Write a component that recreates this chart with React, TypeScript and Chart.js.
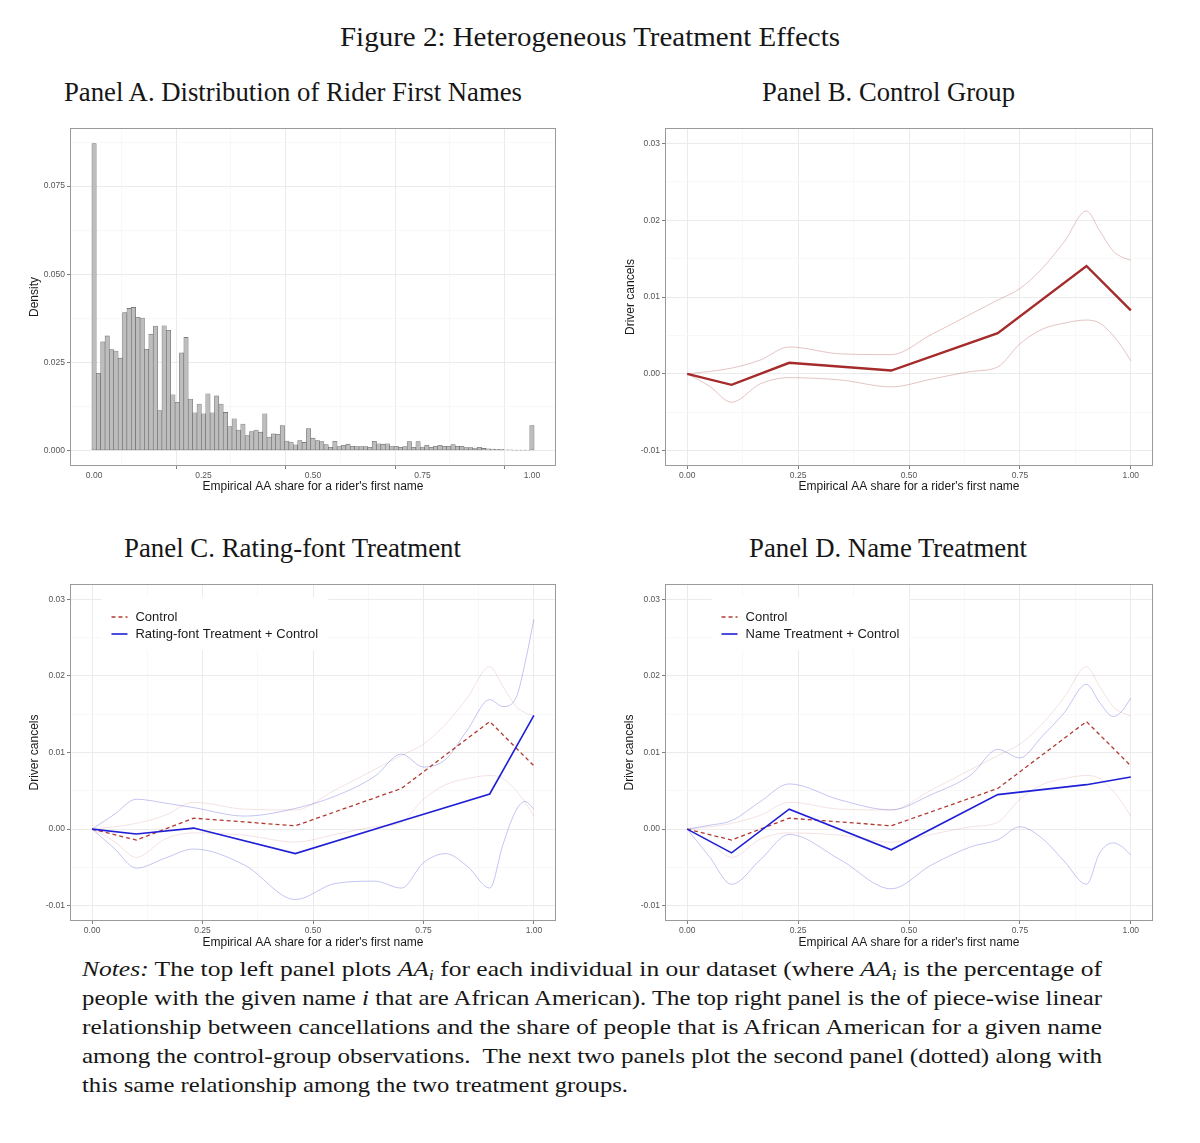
import React, { useEffect, useLayoutEffect, useRef } from 'react';
import { Chart, registerables } from 'chart.js';

Chart.register(...registerables);

// ---------------- data ----------------
const BIN_WIDTH = 0.01;
const HIST_DENSITY = [
  0.0871, 0.0219, 0.0308, 0.0325, 0.0286, 0.0282, 0.0262, 0.0391, 0.0403, 0.0406,
  0.0378, 0.0376, 0.0287, 0.0330, 0.0353, 0.0113, 0.0354, 0.0341, 0.0158, 0.0137,
  0.0277, 0.0321, 0.0146, 0.0107, 0.0132, 0.0104, 0.0161, 0.0107, 0.0155, 0.0132,
  0.0108, 0.0068, 0.0090, 0.0058, 0.0075, 0.0042, 0.0054, 0.0058, 0.0052, 0.0104,
  0.0038, 0.0047, 0.0046, 0.0071, 0.0027, 0.0024, 0.0016, 0.0028, 0.0023, 0.0062,
  0.0035, 0.0028, 0.0025, 0.0017, 0.0009, 0.0026, 0.0011, 0.0015, 0.0018, 0.0012,
  0.0011, 0.0011, 0.0011, 0.0009, 0.0026, 0.0019, 0.0018, 0.0019, 0.0011, 0.0012,
  0.0009, 0.0011, 0.0025, 0.0009, 0.0025, 0.0010, 0.0015, 0.0009, 0.0012, 0.0015,
  0.0012, 0.0012, 0.0017, 0.0012, 0.0012, 0.0008, 0.0008, 0.0007, 0.0009, 0.0006,
  0.0005, 0.0004, 0.0003, 0.0003, 0.0002, 0.0002, 0.0001, 0.0001, 0.0001, 0.0001,
  0.0071,
];

const X_MAJOR = [0, 0.25, 0.5, 0.75, 1];
const X_MINOR = [0.125, 0.375, 0.625, 0.875];
const X_TICK_LABELS = ['0.00', '0.25', '0.50', '0.75', '1.00'];

const YA_MAJOR = [0, 0.025, 0.05, 0.075];
const YA_MINOR = [0.0125, 0.0375, 0.0625, 0.0875];
const YA_TICK_LABELS = ['0.000', '0.025', '0.050', '0.075'];

const Y_MAJOR = [-0.01, 0, 0.01, 0.02, 0.03];
const Y_MINOR = [-0.005, 0.005, 0.015, 0.025];
const Y_TICK_LABELS = ['-0.01', '0.00', '0.01', '0.02', '0.03'];

// piece-wise linear estimates (knots)
const KNOTS = [0, 0.1, 0.23, 0.46, 0.7, 0.9, 1.0];
const CONTROL = [0, -0.00143, 0.00143, 0.00043, 0.0053, 0.01404, 0.00826];
const RATING = [0, -0.00065, 0.00013, -0.0032, 0.00105, 0.00458, 0.01486];
const NAME = [0, -0.0031, 0.0026, -0.0027, 0.0045, 0.0058, 0.0068];

// confidence bands
const CI_X = [0, 0.05, 0.1, 0.165, 0.23, 0.345, 0.46, 0.55, 0.64, 0.7, 0.75, 0.8, 0.85, 0.9, 0.93, 0.96, 0.98, 1.0];
const CONTROL_HI = [0, 0.0003, 0.00074, 0.0018, 0.0035, 0.0026, 0.0025, 0.0051, 0.0078, 0.0096, 0.0111, 0.0137, 0.0172, 0.0212, 0.0186, 0.0160, 0.0152, 0.0148];
const CONTROL_LO = [0, -0.0016, -0.0037, -0.0013, -0.0005, -0.0008, -0.0017, -0.0007, 0.0003, 0.0009, 0.0039, 0.0058, 0.0066, 0.0070, 0.0066, 0.0050, 0.0035, 0.0017];
const RATING_HI = [0, 0.0019, 0.0039, 0.0034, 0.0028, 0.0017, 0.0027, 0.0043, 0.0069, 0.0098, 0.0081, 0.0091, 0.0130, 0.0169, 0.0160, 0.0172, 0.0217, 0.0274];
const RATING_LO = [0, -0.0025, -0.0051, -0.0038, -0.0026, -0.0047, -0.0092, -0.0071, -0.0068, -0.0077, -0.0044, -0.0032, -0.0049, -0.0077, -0.0020, 0.0025, 0.0036, 0.0026];
const NAME_HI = [0, 0.0005, 0.0011, 0.0036, 0.0059, 0.0038, 0.0025, 0.0045, 0.0071, 0.0104, 0.0093, 0.0121, 0.0152, 0.0189, 0.0165, 0.0147, 0.0154, 0.0171];
const NAME_LO = [0, -0.0036, -0.0072, -0.0040, -0.0007, -0.0040, -0.0078, -0.0047, -0.0023, -0.0014, 0.0003, -0.0012, -0.0042, -0.0072, -0.0031, -0.0018, -0.0023, -0.0034];

const LEGEND_CONTROL = 'Control';
const LEGEND_RATING = 'Rating-font Treatment + Control';
const LEGEND_NAME = 'Name Treatment + Control';
const X_TITLE = "Empirical AA share for a rider's first name";

// ---------------- style ----------------
const SANS = '"Liberation Sans", Arial, Helvetica, sans-serif';
const SERIF = '"Liberation Serif", "DejaVu Serif", serif';
const MAJOR_GRID = '#EBEBEB';
const MINOR_GRID = '#F5F5F5';
const TICK_MARK = '#808080';
const FRAME = '#9a9a9a';
const TICK_COLOR = '#555555';
const RED = '#A52A2A';
const RED_DASH = '#B03A30';
const RED_CI = 'rgba(165,42,42,0.28)';
const RED_CI_FAINT = 'rgba(178,34,34,0.15)';
const BLUE = '#1F1FD6';
const BLUE_CI = 'rgba(40,40,210,0.30)';

const pts = (xs: number[], ys: number[]) => xs.map((x, i) => ({ x, y: ys[i] }));
const near = (a: number, b: number) => Math.abs(a - b) < 1e-9;

function axis(kind: 'x' | 'y', min: number, max: number, major: number[], minor: number[], labels: string[], title: string, size: number) {
  const all = [...major, ...minor].sort((a, b) => a - b);
  const isMajor = (v: number) => major.some((m) => near(m, v));
  const labelOf = (v: number) => {
    const i = major.findIndex((m) => near(m, v));
    return i >= 0 ? labels[i] : '';
  };
  return {
    type: 'linear',
    position: kind === 'x' ? 'bottom' : 'left',
    min,
    max,
    bounds: 'data',
    offset: false,
    afterBuildTicks: (s: any) => {
      s.ticks = all.map((v) => ({ value: v }));
    },
    afterFit: (s: any) => {
      if (kind === 'x') s.height = size;
      else s.width = size;
    },
    grid: {
      drawOnChartArea: true,
      drawTicks: true,
      tickLength: 3,
      color: (c: any) => (c.tick && isMajor(c.tick.value) ? MAJOR_GRID : MINOR_GRID),
      lineWidth: (c: any) => (c.tick && isMajor(c.tick.value) ? 1 : 0.7),
      tickColor: (c: any) => (c.tick && isMajor(c.tick.value) ? TICK_MARK : 'rgba(0,0,0,0)'),
      tickWidth: 1,
    },
    border: { display: false },
    ticks: {
      autoSkip: false,
      maxRotation: 0,
      minRotation: 0,
      padding: 2,
      color: TICK_COLOR,
      font: { family: SANS, size: 8.5 },
      callback: (v: any) => labelOf(Number(v)),
    },
    title: {
      display: true,
      text: title,
      color: '#1a1a1a',
      font: { family: SANS, size: 12 },
      padding: kind === 'x' ? { top: 0, bottom: 6 } : { top: 7, bottom: 0 },
    },
  };
}

const framePlugin = {
  id: 'frame',
  afterDraw(chart: any) {
    const { ctx, chartArea: a } = chart;
    ctx.save();
    ctx.strokeStyle = FRAME;
    ctx.lineWidth = 1;
    ctx.strokeRect(Math.round(a.left) + 0.5, Math.round(a.top) + 0.5, Math.round(a.right - a.left) - 1, Math.round(a.bottom - a.top) - 1);
    ctx.restore();
  },
};

const insideLegend = {
  id: 'insideLegend',
  afterDatasetsDraw(chart: any, _args: any, opts: any) {
    if (!opts || !opts.items) return;
    const { ctx, chartArea: a } = chart;
    const items = opts.items as { label: string; color: string; dash: number[]; width: number }[];
    ctx.save();
    ctx.font = `13px ${SANS}`;
    const textW = Math.max(...items.map((it) => ctx.measureText(it.label).width));
    const sample = 16;
    const gap = 8;
    const rowH = 17;
    const contentW = sample + gap + textW;
    const cx = a.left + opts.xFrac * (a.right - a.left);
    const x0 = cx - contentW / 2;
    const y0 = a.top + 33;
    ctx.fillStyle = '#ffffff';
    ctx.fillRect(x0 - 10, y0 - 20, contentW + 20, rowH * (items.length - 1) + 36);
    items.forEach((it, i) => {
      const y = y0 + i * rowH;
      ctx.beginPath();
      ctx.setLineDash(it.dash);
      ctx.strokeStyle = it.color;
      ctx.lineWidth = it.width;
      ctx.moveTo(x0, y);
      ctx.lineTo(x0 + sample, y);
      ctx.stroke();
      ctx.setLineDash([]);
      ctx.fillStyle = '#1a1a1a';
      ctx.textBaseline = 'middle';
      ctx.textAlign = 'left';
      ctx.fillText(it.label, x0 + sample + gap, y);
    });
    ctx.restore();
  },
};

function lineDs(xs: number[], ys: number[], color: string, width: number, order: number, opts: any = {}) {
  return {
    data: pts(xs, ys),
    borderColor: color,
    borderWidth: width,
    pointRadius: 0,
    fill: false,
    order,
    ...opts,
  };
}

const ciOpts = { cubicInterpolationMode: 'monotone' };

function baseOptions(scales: any, padding: any, plugins: any = {}) {
  return {
    responsive: false,
    maintainAspectRatio: false,
    animation: false,
    events: [],
    layout: { padding },
    scales,
    plugins: { legend: { display: false }, tooltip: { enabled: false }, ...plugins },
  };
}

function configA() {
  return {
    type: 'bar',
    data: {
      datasets: [
        {
          data: HIST_DENSITY.map((y, i) => ({ x: i * BIN_WIDTH, y })),
          backgroundColor: '#BDBDBD',
          borderColor: '#6a6a6a',
          borderWidth: 0.6,
          borderSkipped: false,
          barPercentage: 1,
          categoryPercentage: 1,
        },
      ],
    },
    options: baseOptions(
      {
        x: axis('x', -0.055, 1.055, X_MAJOR, X_MINOR, X_TICK_LABELS, X_TITLE, 34),
        y: axis('y', -0.0044, 0.0915, YA_MAJOR, YA_MINOR, YA_TICK_LABELS, 'Density', 50),
      },
      { top: 8, right: 9, left: 0, bottom: 0 }
    ),
    plugins: [framePlugin],
  };
}

function configB() {
  return {
    type: 'line',
    data: {
      datasets: [
        lineDs(KNOTS, CONTROL, RED, 2.4, 0),
        lineDs(CI_X, CONTROL_HI, RED_CI, 1, 1, ciOpts),
        lineDs(CI_X, CONTROL_LO, RED_CI, 1, 1, ciOpts),
      ],
    },
    options: baseOptions(
      {
        x: axis('x', -0.05, 1.05, X_MAJOR, X_MINOR, X_TICK_LABELS, X_TITLE, 34),
        y: axis('y', -0.012, 0.032, Y_MAJOR, Y_MINOR, Y_TICK_LABELS, 'Driver cancels', 49),
      },
      { top: 8, right: 9, left: 0, bottom: 0 }
    ),
    plugins: [framePlugin],
  };
}

function configTreat(values: number[], hi: number[], lo: number[], label: string) {
  return {
    type: 'line',
    data: {
      datasets: [
        lineDs(KNOTS, values, BLUE, 1.6, 0),
        lineDs(KNOTS, CONTROL, RED_DASH, 1.3, 1, { borderDash: [4, 3] }),
        lineDs(CI_X, hi, BLUE_CI, 0.9, 2, ciOpts),
        lineDs(CI_X, lo, BLUE_CI, 0.9, 2, ciOpts),
        lineDs(CI_X, CONTROL_HI, RED_CI_FAINT, 0.9, 3, ciOpts),
        lineDs(CI_X, CONTROL_LO, RED_CI_FAINT, 0.9, 3, ciOpts),
      ],
    },
    options: baseOptions(
      {
        x: axis('x', -0.05, 1.05, X_MAJOR, X_MINOR, X_TICK_LABELS, X_TITLE, 35),
        y: axis('y', -0.012, 0.032, Y_MAJOR, Y_MINOR, Y_TICK_LABELS, 'Driver cancels', 50),
      },
      { top: 8, right: 9, left: 0, bottom: 0 },
      {
        insideLegend: {
          xFrac: 0.298,
          items: [
            { label: LEGEND_CONTROL, color: RED_DASH, dash: [4, 3], width: 1.3 },
            { label, color: BLUE, dash: [], width: 1.6 },
          ],
        },
      }
    ),
    plugins: [insideLegend, framePlugin],
  };
}

function ChartBox({ make, left, top, width, height }: { make: () => any; left: number; top: number; width: number; height: number }) {
  const ref = useRef<HTMLCanvasElement>(null);
  useEffect(() => {
    const chart = new Chart(ref.current as HTMLCanvasElement, make());
    return () => chart.destroy();
  }, []);
  return (
    <div style={{ position: 'absolute', left, top, width, height }}>
      <canvas ref={ref} width={width} height={height} style={{ width, height, display: 'block' }} />
    </div>
  );
}

function FitText({ left, baseline, width, size, children }: { left: number; baseline: number; width: number; size: number; children: React.ReactNode }) {
  const ref = useRef<HTMLDivElement>(null);
  useLayoutEffect(() => {
    const el = ref.current;
    if (!el) return;
    el.style.transform = 'none';
    const w = el.getBoundingClientRect().width;
    if (w > 0) el.style.transform = `scaleX(${width / w})`;
  }, [width]);
  return (
    <div
      ref={ref}
      style={{
        position: 'absolute',
        left,
        top: baseline - 0.8375 * size,
        fontFamily: SERIF,
        fontSize: size,
        lineHeight: `${size}px`,
        whiteSpace: 'nowrap',
        transformOrigin: '0 0',
        color: '#161616',
      }}
    >
      {children}
    </div>
  );
}

const AAi = () => (
  <span style={{ fontStyle: 'italic' }}>
    AA<sub style={{ fontSize: '0.7em', lineHeight: 0, verticalAlign: '-0.25em' }}>i</sub>
  </span>
);

export default function App() {
  return (
    <div style={{ position: 'absolute', left: 0, top: 0, width: 1200, height: 1143, background: '#ffffff', overflow: 'hidden' }}>
      <FitText left={340} baseline={47} width={500} size={27}>Figure 2: Heterogeneous Treatment Effects</FitText>
      <FitText left={64} baseline={102} width={458} size={27}>Panel A. Distribution of Rider First Names</FitText>
      <FitText left={762} baseline={102} width={253} size={27}>Panel B. Control Group</FitText>
      <FitText left={124} baseline={558} width={337} size={27}>Panel C. Rating-font Treatment</FitText>
      <FitText left={749} baseline={558} width={278} size={27}>Panel D. Name Treatment</FitText>

      <ChartBox make={configA} left={20} top={120} width={545} height={380} />
      <ChartBox make={configB} left={616} top={120} width={546} height={380} />
      <ChartBox make={() => configTreat(RATING, RATING_HI, RATING_LO, LEGEND_RATING)} left={20} top={576} width={545} height={380} />
      <ChartBox make={() => configTreat(NAME, NAME_HI, NAME_LO, LEGEND_NAME)} left={615} top={576} width={547} height={380} />

      <FitText left={82} baseline={976} width={1020} size={22}>
        <i>Notes:</i> The top left panel plots <AAi /> for each individual in our dataset (where <AAi /> is the percentage of
      </FitText>
      <FitText left={82} baseline={1005} width={1020} size={22}>
        people with the given name <i>i</i> that are African American). The top right panel is the of piece-wise linear
      </FitText>
      <FitText left={82} baseline={1034} width={1020} size={22}>
        relationship between cancellations and the share of people that is African American for a given name
      </FitText>
      <FitText left={82} baseline={1063} width={1020} size={22}>
        among the control-group observations.&nbsp; The next two panels plot the second panel (dotted) along with
      </FitText>
      <FitText left={82} baseline={1092} width={546} size={22}>
        this same relationship among the two treatment groups.
      </FitText>
    </div>
  );
}
